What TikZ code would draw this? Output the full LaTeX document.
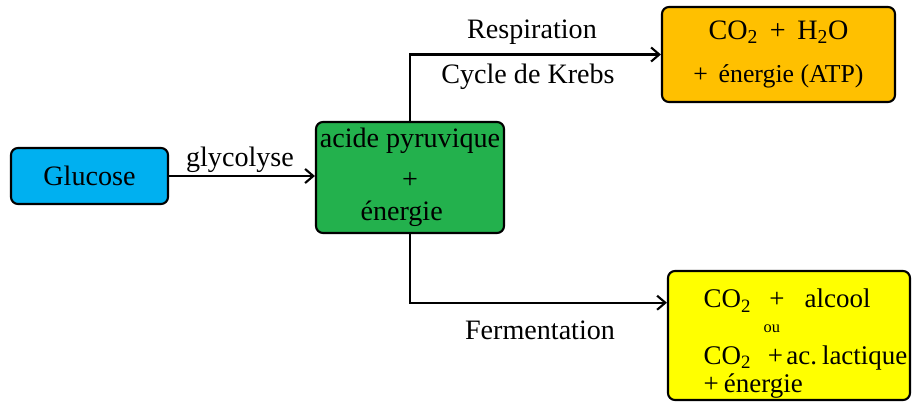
\documentclass[tikz,border=0pt]{standalone}
\usepackage{fontspec}
\setmainfont{Liberation Serif}
\usetikzlibrary{calc,arrows.meta}
\definecolor{GlucoseBlue}{RGB}{0,176,240}
\definecolor{PyruvGreen}{RGB}{35,177,77}
\definecolor{KrebsOrange}{RGB}{255,192,0}
\definecolor{FermYellow}{RGB}{255,255,0}
\newcommand{\padl}{\hspace*{0.99cm}}

\begin{document}
\begin{tikzpicture}[x=0.03cm, y=-0.03cm,
    box/.style={draw=black, line width=1.8pt, rounded corners=6pt, inner sep=1pt,
      font=\fontsize{24}{27}\selectfont},
    lab/.style={font=\fontsize{24}{27}\selectfont},
    arr/.style={line width=1.8pt, -{Straight Barb[length=7pt,width=12pt]}}]
  \useasboundingbox (0,0) rectangle (912,403);

  % boxes
  \node[box, fill=GlucoseBlue, minimum width=4.71cm, minimum height=1.68cm]
    (glucose) at (89.5,176) {Glucose};
  \node[box, fill=PyruvGreen, minimum width=5.64cm, minimum height=3.33cm, align=center]
    (pyruv) at (410,177.5) {acide pyruvique\\[8pt] +\\ énergie\hspace*{0.5cm}};
  \node[box, fill=KrebsOrange, minimum width=6.99cm, minimum height=2.85cm, align=center]
    (resp) at (778.5,54.5) {CO\textsubscript{2} \,+\, H\textsubscript{2}O\\[10pt]
      {\fontsize{22}{26}\selectfont +\, énergie (ATP)}};
  \node[box, fill=FermYellow, minimum width=7.26cm, minimum height=3.87cm,
    align=left, font=\fontsize{23}{24}\selectfont]
    (ferm) at (789,335.5)
    {\padl\rule{0pt}{30pt}CO\textsubscript{2}\hspace{0.55cm}+\hspace{0.6cm}alcool\\[-3pt]
     \padl\hspace*{1.8cm}{\fontsize{14}{14}\selectfont ou}\\[3pt]
     \padl CO\textsubscript{2}\hspace{0.5cm}+\hspace{0.1cm}ac.\hspace{0.15cm}lactique\\
     \padl +\hspace{0.15cm}énergie};

  % connectors
  \draw[arr] (glucose.east) -- (pyruv.west |- glucose.east);
  \node[lab] (glyco) at (240,160) {glycolyse};

  \draw[arr] (pyruv.north) |- (resp.west);
  \node[lab] (respi) at (532,32) {Respiration};
  \node[lab] (krebs) at (528,77) {Cycle de Krebs};

  \draw[arr] (pyruv.south) |- ($(ferm.north west)!0.25!(ferm.south west)$);
  \node[lab] (fermlab) at (540,330) {Fermentation};
\end{tikzpicture}
\end{document}
